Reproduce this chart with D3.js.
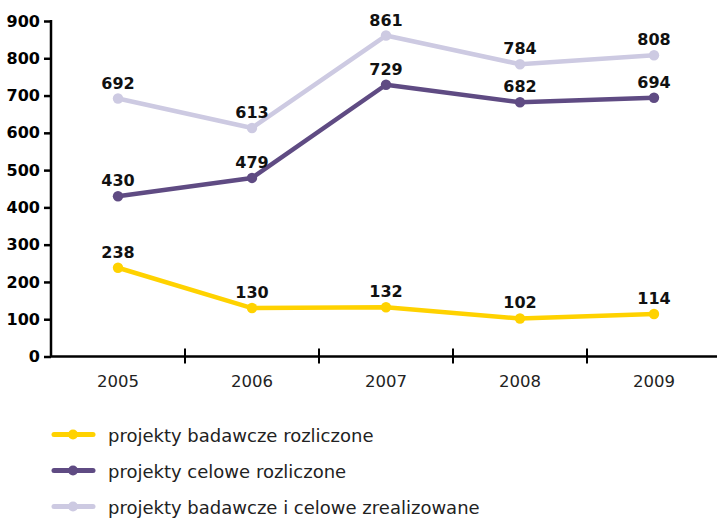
<!DOCTYPE html>
<html><head><meta charset="utf-8">
<script src="https://cdn.jsdelivr.net/npm/d3@7"></script>
<style>body{margin:0;background:#fff}svg{display:block}</style>
</head><body>
<svg id="c" width="717" height="519"></svg>
<script>
const years = ["2005","2006","2007","2008","2009"];
const badawczeRozliczone = [238,130,132,102,114];
const celoweRozliczone = [430,479,729,682,694];
const zrealizowane = [692,613,861,784,808];
const yTicks = [0,100,200,300,400,500,600,700,800,900];
const seriesNames = ["projekty badawcze rozliczone","projekty celowe rozliczone","projekty badawcze i celowe zrealizowane"];
const seriesColors = ["#FFD200","#5F4B83","#CDCAE2"];

const svg = d3.select("#c");
const x = d3.scaleBand().domain(years).range([51,721]);
const y = d3.scaleLinear().domain([0,900]).range([356.5,21]);

const series = [
  {name:seriesNames[0], color:seriesColors[0], values:badawczeRozliczone},
  {name:seriesNames[1], color:seriesColors[1], values:celoweRozliczone},
  {name:seriesNames[2], color:seriesColors[2], values:zrealizowane}
];

// axes
const gy = svg.append("g").attr("transform","translate(51,0)")
  .call(d3.axisLeft(y).tickValues(yTicks).tickSize(7).tickPadding(4).tickFormat(d3.format("d")));
gy.select(".domain").attr("stroke","#000").attr("stroke-width",2.5).attr("d","M0,356.5V20");
gy.selectAll(".tick line").attr("stroke","#000").attr("stroke-width",2.5);
gy.selectAll("text").attr("font-family","DejaVu Sans").attr("font-weight","bold").attr("font-size","16px").attr("fill","#000");

const gx = svg.append("g").attr("transform","translate(0,356.5)");
gx.append("line").attr("x1",51).attr("x2",717).attr("stroke","#000").attr("stroke-width",2.5);
gx.selectAll("line.t").data(years.slice(1)).join("line").attr("class","t")
  .attr("x1",d=>x(d)).attr("x2",d=>x(d)).attr("y1",-8).attr("y2",7)
  .attr("stroke","#000").attr("stroke-width",2);
gx.selectAll("text").data(years).join("text")
  .attr("x",d=>x(d)+x.bandwidth()/2).attr("y",30)
  .attr("text-anchor","middle").attr("font-family","DejaVu Sans").attr("font-size","16.5px").attr("fill","#222")
  .text(d=>d);

const line = d3.line().x((d,i)=>x(years[i])+x.bandwidth()/2).y(d=>y(d));

[2,1,0].forEach(k=>{
  const s = series[k];
  const g = svg.append("g");
  g.append("path").attr("d",line(s.values)).attr("fill","none").attr("stroke",s.color).attr("stroke-width",4.5).attr("stroke-linejoin","round");
  g.selectAll("circle").data(s.values).join("circle")
    .attr("cx",(d,i)=>x(years[i])+x.bandwidth()/2).attr("cy",d=>y(d)).attr("r",5.2).attr("fill",s.color);
  g.selectAll("text").data(s.values).join("text")
    .attr("x",(d,i)=>x(years[i])+x.bandwidth()/2).attr("y",d=>y(d)-10)
    .attr("text-anchor","middle").attr("font-family","DejaVu Sans").attr("font-weight","bold").attr("font-size","16px").attr("fill","#111")
    .text(d=>d);
});

// legend
const lg = svg.append("g");
series.forEach((s,i)=>{
  const yy = 434.5 + i*36;
  lg.append("line").attr("x1",54).attr("x2",93).attr("y1",yy).attr("y2",yy).attr("stroke",s.color).attr("stroke-width",5).attr("stroke-linecap","round");
  lg.append("circle").attr("cx",73).attr("cy",yy).attr("r",5).attr("fill",s.color);
  lg.append("text").attr("x",108).attr("y",yy+7).attr("font-family","DejaVu Sans").attr("font-size","18px").attr("fill","#222").text(s.name);
});
</script>
</body></html>
